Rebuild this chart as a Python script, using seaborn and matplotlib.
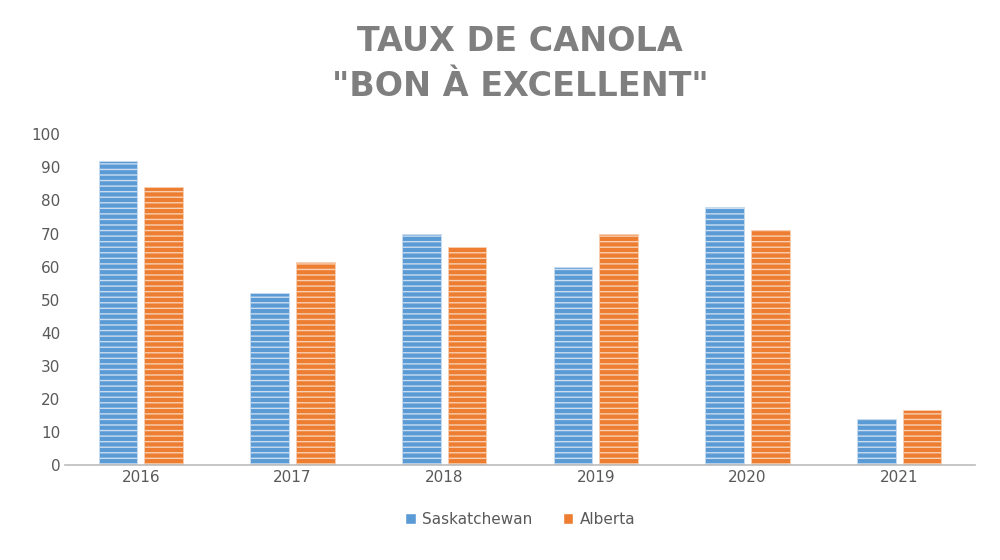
import numpy as np
import pandas as pd
import matplotlib.pyplot as plt
import seaborn as sns

years = ["2016", "2017", "2018", "2019", "2020", "2021"]
saskatchewan = [92, 52, 70, 60, 78, 14]
alberta = [84, 61.5, 66, 70, 71, 16.5]

sns.set_theme(style="white")
plt.rcParams["hatch.linewidth"] = 1.0

df = pd.DataFrame({"year": years * 2,
                   "value": saskatchewan + alberta,
                   "prov": ["Saskatchewan"] * 6 + ["Alberta"] * 6})
colors = {"Saskatchewan": "#5b9bd5", "Alberta": "#ed7d31"}
light = {"Saskatchewan": "#c9dcf0", "Alberta": "#f8cfb3"}

fig, ax = plt.subplots(figsize=(10, 5.6), dpi=100)
sns.barplot(data=df, x="year", y="value", hue="prov", palette=colors,
            width=0.6, gap=0.15, ax=ax, legend=False)
for bar, prov in zip(ax.patches, df["prov"]):
    bar.set_facecolor(colors[prov])
    bar.set_hatch("---")
    bar.set_edgecolor(light[prov])
    bar.set_linewidth(0.6)

ax.set_ylim(0, 100)
ax.set_yticks(range(0, 101, 10))
ax.set_xlabel("")
ax.set_ylabel("")
ax.tick_params(axis="both", labelsize=11, colors="#595959", length=0)
for s in ["top", "right", "left"]:
    ax.spines[s].set_visible(False)
ax.spines["bottom"].set_color("#bfbfbf")
ax.set_title('TAUX DE CANOLA\n"BON À EXCELLENT"', fontsize=24, fontweight="bold",
             color="#7f7f7f", linespacing=1.45, pad=28)

handles = [plt.Rectangle((0, 0), 1, 1, facecolor=colors[p]) for p in colors]
ax.legend(handles, list(colors), loc="upper center", bbox_to_anchor=(0.5, -0.1),
          ncol=2, frameon=False, fontsize=11, handlelength=0.7, handleheight=0.7,
          handletextpad=0.4, labelcolor="#595959")

fig.subplots_adjust(left=0.065, right=0.975, top=0.76, bottom=0.17)
fig.savefig("out.png")
